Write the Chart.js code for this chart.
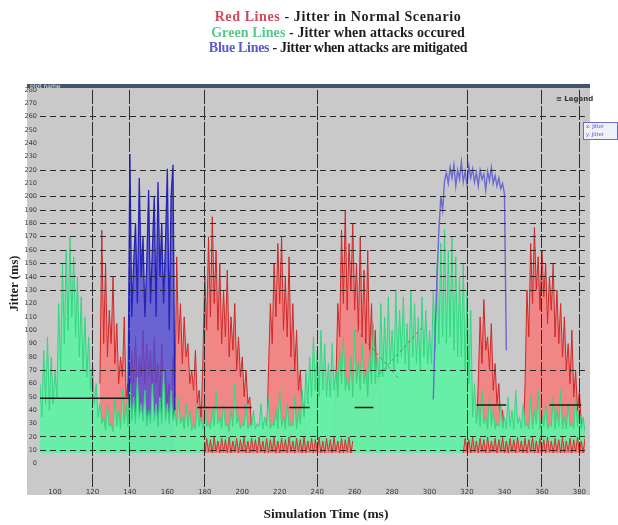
<!DOCTYPE html>
<html><head><meta charset="utf-8">
<script src="https://cdn.jsdelivr.net/npm/chart.js@4.4.0/dist/chart.umd.min.js"></script>
<style>
html,body{margin:0;padding:0;background:#fff;}
#wrap{position:relative;width:618px;height:525px;overflow:hidden;}
canvas{position:absolute;left:0;top:0;}
#hdr{position:absolute;left:0;top:9px;width:618px;box-sizing:border-box;padding-left:58px;text-align:center;font-family:"Liberation Serif","DejaVu Serif",serif;font-weight:bold;font-size:14px;line-height:15.5px;color:#1e1e1e;}
#xt{position:absolute;left:0;top:506px;width:618px;box-sizing:border-box;padding-left:34px;text-align:center;font-family:"Liberation Serif","DejaVu Serif",serif;font-weight:bold;font-size:13.5px;color:#1e1e1e;}
</style></head><body>
<div id="wrap">
<canvas id="c" width="618" height="525"></canvas>
<div id="hdr">
<div style="letter-spacing:0.6px"><span style="color:#d4485c">Red Lines</span> - Jitter in Normal Scenario</div>
<div style="letter-spacing:0.1px"><span style="color:#55c98a">Green Lines</span> - Jitter when attacks occured</div>
<div style="letter-spacing:-0.3px"><span style="color:#5b5bcf">Blue Lines</span> - Jitter when attacks are mitigated</div>
</div>
<div id="xt">Simulation Time (ms)</div>
</div>
<script>
// ---- data (x in ms, one value per ms starting at the given start) ----
const xTicks = [100,120,140,160,180,200,220,240,260,280,300,320,340,360,380];
const yTicks = [0,10,20,30,40,50,60,70,80,90,100,110,120,130,140,150,160,170,180,190,200,210,220,230,240,250,260,270,280];
const dashedRows = [260,220,200,190,180,170,160,150,140,130,70,20,10];
const darkCols = [120,140,180,240,320,360,380];

const greenStart = 92;
const green = [60,35,85,45,95,40,80,45,70,
 50,120,70,150,90,160,100,170,110,155,95,140,
 80,125,70,110,65,95,55,75,45,60,35,45,30,
 35,25,45,28,30,24,50,28,40,26,55,30,45,28,60,32,50,30,65,34,45,32,55,28,40,30,60,32,45,28,50,30,70,32,45,30,55,32,40,28,50,30,35,26,45,
 28,40,25,30,26,45,28,35,26,50,28,30,26,40,28,55,30,35,26,45,28,30,24,40,28,60,30,35,26,30,28,45,26,30,28,40,26,30,28,45,26,35,28,50,26,30,28,40,26,55,28,35,26,45,28,30,28,50,26,40,
 30,55,35,70,45,80,50,95,55,85,50,100,55,90,50,
 75,50,90,55,70,50,85,60,95,55,65,55,80,50,100,60,75,55,90,60,70,50,85,60,105,60,80,65,120,65,
 110,70,125,75,100,70,130,75,115,80,125,75,105,70,130,80,120,75,110,70,125,80,115,75,100,
 75,130,85,150,90,165,95,175,90,160,95,170,85,155,80,140,80,150,70,130,60,115,
 35,60,30,45,28,55,30,35,26,50,28,40,26,30,28,45,26,35,26,50,28,40,26,55,30,35,26,45,28,30,26,50,26,40,30,55,26,35,28,45,26,30,28,50,26,40,28,55,26,35,26,45,28,30,26,50,28,40,26,35,24,30];

const redAStart = 124;
const redA = [60,175,90,150,80,115,90,140,75,105,60,80,65,110,50,60,
 45,85,60,95,55,80,65,100,60,90,65,85,55,95,60,75,50,90,55,70,45,60,40,
 80,50,155,90,120,75,110,80,90,60,70,55,85,45,55,30,
 80,140,100,170,110,185,120,160,100,150,90,130,95,145,80,110,85,120,70,95,65,80,50,70,45,50,25,
 8,19,8,18,9,19,8,17,
 70,120,90,150,110,165,120,170,100,140,95,155,80,120,70,100,55,70,40,45,
 8,19,9,18,8,19,8,17,9,19,8,18,8,19,9,18,
 60,120,95,175,120,190,115,165,130,180,115,150,100,170,95,145,90,160,80,120,70,100,55,70,30];
const redBStart = 322;
const redB = [8,19,9,18,
 60,110,75,123,85,95,70,105,55,75,45,60,30,40,20,
 8,19,8,18,9,19,8,18,9,19,
 60,130,95,165,120,177,130,155,115,160,125,150,105,140,115,150,95,130,90,120,80,110,70,90,60,100,50,70,40,55,30,30,15,15];

// low red hatch band along the bottom (normal-scenario jitter floor)
const bandAStart = 180;
const bandA = [8,19,9,18,8,20,9,17,8,19,9,18,8,20,8,17,9,19,8,18,9,20,8,17,8,19,9,18,8,20,9,17,8,19,8,18,9,20,8,17,
 8,19,9,18,8,20,9,17,8,19,9,18,8,20,8,17,9,19,8,18,9,20,8,17,8,19,9,18,8,20,9,17,8,19,8,18,9,20,8,17];
const bandBStart = 318;
const bandB = [8,19,9,18,8,20,9,17,8,19,9,18,8,20,8,17,9,19,8,18,9,20,8,17,8,19,9,18,8,20,9,17,8,19,8,18,9,20,8,17,
 8,19,9,18,8,20,9,17,8,19,9,18,8,20,8,17,9,19,8,18,9,20,8,17,8,19,9];

const blueAStart = 139;
const blueA = [50,232,110,150,180,120,214,140,170,110,150,205,120,160,200,110,211,140,180,120,165,221,100,200,224,40];
const blueBStart = 302;
const blueB = [48,100,140,175,200,190,212,218,210,222,214,224,208,220,213,226,211,219,209,223,214,221,211,218,208,220,213,217,205,219,212,222,210,216,208,214,206,210,202,85];

const blackX = [92,140,141,176,205,206,225,236,237,260,270,271,325,341,342,364,381];
const blackY = [49,49,null,42,42,null,42,42,null,42,42,null,44,44,null,44,44];

const crossX = [261,284,285,296,272];
const crossY = [100,63,null,102,65];

// ---- helpers ----
const pts = (x0, arr) => arr.map((v, i) => ({x: x0 + i, y: v}));
const xyPts = (xs, ys) => xs.map((x, i) => ({x: x, y: ys[i]}));
const redPts = pts(redAStart, redA).concat([{x: redAStart + redA.length, y: null}], pts(redBStart, redB));
const bandPts = pts(bandAStart, bandA).concat([{x: bandAStart + bandA.length, y: null}], pts(bandBStart, bandB));

const bgPlugin = {
  id: 'bg',
  beforeDraw(chart) {
    const c = chart.ctx;
    c.save();
    c.fillStyle = '#ffffff'; c.fillRect(0, 0, chart.width, chart.height);
    c.fillStyle = '#c9c9c9'; c.fillRect(27, 84, 563, 411);
    c.fillStyle = '#44546a'; c.fillRect(27, 84, 563, 4);
    c.restore();
  },
  afterDraw(chart) {
    const c = chart.ctx;
    c.save();
    c.font = '6px "DejaVu Sans"';
    c.fillStyle = '#e8e8e8';
    c.textBaseline = 'middle';
    c.fillText('plot name', 30, 86);
    c.fillStyle = '#333';
    c.font = 'bold 7px "DejaVu Sans"';
    c.fillText('\u2261 Legend', 556, 99);
    c.fillStyle = '#eef0fa';
    c.fillRect(583, 122, 35, 18);
    c.strokeStyle = '#6a6ad0'; c.lineWidth = 1;
    c.strokeRect(583.5, 122.5, 34, 17);
    c.fillStyle = '#4848c0';
    c.font = '5px "DejaVu Sans"';
    c.fillText('x: Jitter', 586, 127);
    c.fillText('y: Jitter', 586, 135);
    c.restore();
  }
};

const serif = '"Liberation Serif","DejaVu Serif",serif';

new Chart(document.getElementById('c'), {
  type: 'line',
  data: {
    datasets: [
      {label: 'Black', data: xyPts(blackX, blackY), borderColor: '#1c1c1c', borderWidth: 1.5, pointRadius: 0, fill: false, spanGaps: false, order: 0},
      {label: 'Cross', data: xyPts(crossX, crossY), borderColor: 'rgba(70,70,70,0.55)', borderWidth: 1, borderDash: [3, 3], pointRadius: 0, fill: false, spanGaps: false, order: 0},
      {label: 'Red Lines (floor)', data: bandPts, borderColor: '#d83030', backgroundColor: 'rgba(244,128,128,0.9)', borderWidth: 1, pointRadius: 0, fill: {value: 8}, spanGaps: false, order: 0.5},
      {label: 'Green Lines', data: pts(greenStart, green), borderColor: '#34d682', backgroundColor: 'rgba(100,240,165,0.97)', borderWidth: 1, pointRadius: 0, fill: {value: 8}, order: 1},
      {label: 'Blue Lines', data: pts(blueAStart, blueA), borderColor: '#2424b8', backgroundColor: 'rgba(80,70,215,0.78)', borderWidth: 1.3, pointRadius: 0, fill: {value: 8}, order: 2},
      {label: 'Blue Lines (mitigated)', data: pts(blueBStart, blueB), borderColor: '#6a6ad2', borderWidth: 1.4, pointRadius: 0, fill: false, order: 0},
      {label: 'Red Lines', data: redPts, borderColor: '#d22828', backgroundColor: 'rgba(244,128,128,0.92)', borderWidth: 1, pointRadius: 0, fill: {value: 8}, spanGaps: false, order: 3}
    ]
  },
  options: {
    responsive: false,
    animation: false,
    layout: {padding: {top: 90, right: 33, left: 0, bottom: 0}},
    plugins: {legend: {display: false}, tooltip: {enabled: false}, title: {display: false}},
    elements: {line: {tension: 0}},
    scales: {
      x: {
        type: 'linear', min: 92, max: 383,
        afterBuildTicks: s => { s.ticks = xTicks.map(v => ({value: v})); },
        afterFit: s => { s.height = 48; },
        ticks: {font: {size: 7, family: '"DejaVu Sans"'}, color: '#3a3a3a', padding: 1, maxRotation: 0, autoSkip: false},
        grid: {color: ctx => (ctx.tick && darkCols.includes(ctx.tick.value)) ? '#2e2e2e' : 'rgba(0,0,0,0)', lineWidth: 1, drawTicks: true, tickLength: 10, z: 1},
        border: {display: false, dash: [14, 2]},
        title: {display: false}
      },
      y: {
        type: 'linear', min: -10, max: 280,
        afterBuildTicks: s => { s.ticks = yTicks.map(v => ({value: v})); },
        afterFit: s => { s.width = 40; },
        ticks: {font: {size: 6.5, family: '"DejaVu Sans"'}, color: '#3a3a3a', padding: 3, autoSkip: false},
        grid: {color: ctx => (ctx.tick && dashedRows.includes(ctx.tick.value)) ? '#2a2a2a' : 'rgba(0,0,0,0)', lineWidth: 1, drawTicks: false, z: 1},
        border: {display: false, dash: [6, 4]},
        title: {display: true, text: 'Jitter (ms)', color: '#1e1e1e', font: {family: serif, weight: 'bold', size: 12.5}, padding: {top: 7, bottom: 0}}
      }
    }
  },
  plugins: [bgPlugin]
});
</script>
</body></html>
